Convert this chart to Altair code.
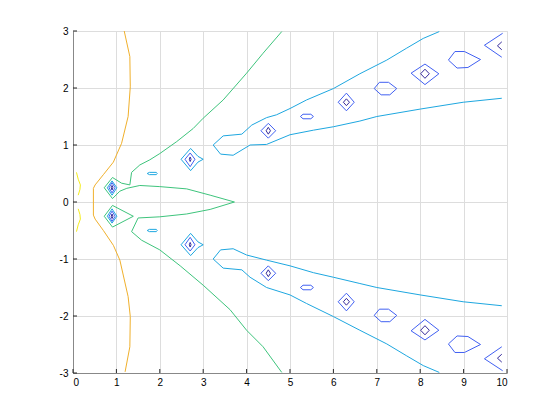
import altair as alt
import pandas as pd

# ---------------- data (x, y) ----------------
LEVELS = ["L1", "L2", "L3", "L4", "L5", "L6"]
LEVEL_COLORS = ["#352a9a", "#4160f2", "#1ea7e0", "#3ec47c", "#f0b02c", "#f4ec1c"]

X_TICKS = [0, 1, 2, 3, 4, 5, 6, 7, 8, 9, 10]
Y_TICKS = [-3, -2, -1, 0, 1, 2, 3]

YELLOW_UP = [(0.08, 0.52), (0.12, 0.40), (0.17, 0.30), (0.16, 0.22), (0.12, 0.12)]
YELLOW_LOW = [(0.12, -0.12), (0.16, -0.22), (0.17, -0.30), (0.12, -0.40), (0.08, -0.52)]

ORANGE_ARC = [(1.18, 3.00), (1.31, 2.55), (1.32, 2.02), (1.27, 1.50), (1.12, 1.03),
              (0.93, 0.70), (0.70, 0.48), (0.51, 0.30), (0.47, 0.24), (0.47, -0.23),
              (0.51, -0.30), (0.70, -0.50), (0.93, -0.76), (1.08, -1.02), (1.27, -1.66),
              (1.32, -2.01), (1.31, -2.54), (1.20, -2.98)]

GREEN_MAIN = [(4.81, 2.99), (4.38, 2.61), (4.00, 2.26), (3.46, 1.79), (3.00, 1.47),
              (2.77, 1.29), (2.39, 1.06), (2.00, 0.85), (1.77, 0.74), (1.54, 0.65),
              (1.35, 0.52), (1.31, 0.30), (1.12, 0.33), (0.91, 0.43), (0.72, 0.25),
              (0.91, 0.06), (1.08, 0.19), (1.24, 0.24), (1.54, 0.29), (2.00, 0.27),
              (2.62, 0.23), (3.16, 0.12), (3.72, 0.00), (3.16, -0.13), (2.62, -0.21),
              (2.00, -0.26), (1.50, -0.28), (1.35, -0.52), (1.58, -0.67), (2.00, -0.84),
              (2.47, -1.12), (3.00, -1.46), (3.62, -1.89), (4.00, -2.25), (4.38, -2.54),
              (4.81, -2.99)]
GREEN_DIAMOND_LOW = [(1.39, -0.25), (0.91, -0.06), (0.72, -0.25), (0.91, -0.44), (1.39, -0.25)]

CYAN_FUNNEL_UP = [(8.44, 2.99), (8.07, 2.87), (7.69, 2.70), (7.23, 2.49), (6.61, 2.25),
                  (6.00, 1.99), (5.38, 1.79), (5.00, 1.64), (4.69, 1.53), (4.46, 1.48),
                  (4.12, 1.35), (3.89, 1.19), (3.46, 1.16), (3.23, 1.00), (3.40, 0.84),
                  (3.69, 0.82), (4.08, 1.00), (4.46, 1.01), (5.00, 1.18), (5.54, 1.26),
                  (6.00, 1.32), (6.61, 1.42), (7.00, 1.50), (8.00, 1.63), (8.99, 1.75),
                  (9.88, 1.82)]
CYAN_FUNNEL_LOW = [(8.44, -2.99), (8.07, -2.87), (7.69, -2.70), (7.23, -2.49), (6.61, -2.25),
                   (6.00, -2.01), (5.38, -1.78), (5.00, -1.63), (4.46, -1.50), (4.08, -1.32),
                   (3.89, -1.19), (3.46, -1.16), (3.23, -1.00), (3.40, -0.84), (3.69, -0.82),
                   (4.00, -0.93), (4.46, -1.02), (5.00, -1.12), (5.54, -1.24), (6.00, -1.32),
                   (6.61, -1.43), (7.00, -1.50), (8.00, -1.63), (8.99, -1.75), (9.88, -1.82)]
CYAN_D1_UP = [(0.79, 0.25), (0.90, 0.37), (1.01, 0.25), (0.90, 0.12), (0.79, 0.25)]
CYAN_D1_LOW = [(0.79, -0.25), (0.90, -0.12), (1.01, -0.25), (0.90, -0.37), (0.79, -0.25)]
CYAN_D2_UP = [(2.49, 0.75), (2.71, 0.94), (2.88, 0.80), (3.00, 0.75), (2.88, 0.70),
              (2.71, 0.55), (2.49, 0.75)]
CYAN_D2_LOW = [(2.49, -0.75), (2.71, -0.55), (2.88, -0.70), (3.00, -0.75), (2.88, -0.80),
               (2.71, -0.94), (2.49, -0.75)]
CYAN_E1_UP = [(1.71, 0.50), (1.76, 0.52), (1.92, 0.52), (1.94, 0.50), (1.92, 0.48),
              (1.76, 0.48), (1.71, 0.50)]
CYAN_E1_LOW = [(1.71, -0.50), (1.76, -0.48), (1.92, -0.48), (1.94, -0.50), (1.92, -0.52),
               (1.76, -0.52), (1.71, -0.50)]

BLUE_D1_UP = [(0.83, 0.25), (0.90, 0.34), (0.97, 0.25), (0.90, 0.16), (0.83, 0.25)]
BLUE_D1_LOW = [(0.83, -0.25), (0.90, -0.16), (0.97, -0.25), (0.90, -0.34), (0.83, -0.25)]
BLUE_D2_UP = [(2.58, 0.75), (2.70, 0.86), (2.81, 0.75), (2.70, 0.62), (2.58, 0.75)]
BLUE_D2_LOW = [(2.58, -0.75), (2.70, -0.62), (2.81, -0.75), (2.70, -0.86), (2.58, -0.75)]
BLUE_D3_UP = [(4.33, 1.25), (4.50, 1.38), (4.67, 1.25), (4.50, 1.12), (4.33, 1.25)]
BLUE_D3_LOW = [(4.33, -1.25), (4.50, -1.12), (4.67, -1.25), (4.50, -1.38), (4.33, -1.25)]
BLUE_E1_UP = [(5.24, 1.50), (5.30, 1.54), (5.48, 1.54), (5.54, 1.50), (5.48, 1.46),
              (5.30, 1.46), (5.24, 1.50)]
BLUE_E1_LOW = [(5.24, -1.50), (5.30, -1.46), (5.48, -1.46), (5.54, -1.50), (5.48, -1.54),
               (5.30, -1.54), (5.24, -1.50)]
BLUE_D4_UP = [(6.11, 1.75), (6.30, 1.91), (6.48, 1.75), (6.30, 1.60), (6.11, 1.75)]
BLUE_D4_LOW = [(6.11, -1.75), (6.30, -1.60), (6.48, -1.75), (6.30, -1.91), (6.11, -1.75)]
BLUE_E2_UP = [(6.94, 1.99), (7.06, 2.10), (7.27, 2.10), (7.46, 1.99), (7.30, 1.88),
              (7.10, 1.88), (6.94, 1.99)]
BLUE_E2_LOW = [(6.94, -1.99), (7.06, -1.88), (7.27, -1.88), (7.46, -1.99), (7.30, -2.10),
               (7.10, -2.10), (6.94, -1.99)]
BLUE_D5_UP = [(7.79, 2.26), (8.11, 2.42), (8.43, 2.25), (8.11, 2.06), (7.79, 2.26)]
BLUE_D5_LOW = [(7.79, -2.26), (8.11, -2.06), (8.43, -2.25), (8.11, -2.42), (7.79, -2.26)]
BLUE_E3_UP = [(8.65, 2.49), (8.80, 2.64), (9.02, 2.64), (9.39, 2.50), (9.10, 2.36),
              (8.85, 2.35), (8.65, 2.49)]
BLUE_E3_LOW = [(8.65, -2.49), (8.80, -2.64), (9.02, -2.64), (9.39, -2.50), (9.10, -2.36),
               (8.85, -2.35), (8.65, -2.49)]
BLUE_D6_UP = [(9.90, 2.96), (9.48, 2.75), (9.88, 2.54)]
BLUE_D6_LOW = [(9.90, -2.96), (9.48, -2.75), (9.88, -2.54)]

NAVY_D1_UP = [(0.88, 0.25), (0.90, 0.29), (0.92, 0.25), (0.90, 0.21), (0.88, 0.25)]
NAVY_D1_LOW = [(0.88, -0.25), (0.90, -0.21), (0.92, -0.25), (0.90, -0.29), (0.88, -0.25)]
NAVY_D2_UP = [(2.68, 0.75), (2.70, 0.79), (2.72, 0.75), (2.70, 0.71), (2.68, 0.75)]
NAVY_D2_LOW = [(2.68, -0.75), (2.70, -0.71), (2.72, -0.75), (2.70, -0.79), (2.68, -0.75)]
NAVY_D3_UP = [(4.45, 1.25), (4.50, 1.31), (4.55, 1.25), (4.50, 1.19), (4.45, 1.25)]
NAVY_D3_LOW = [(4.45, -1.25), (4.50, -1.19), (4.55, -1.25), (4.50, -1.31), (4.45, -1.25)]
NAVY_D4_UP = [(6.23, 1.75), (6.30, 1.81), (6.37, 1.75), (6.30, 1.69), (6.23, 1.75)]
NAVY_D4_LOW = [(6.23, -1.75), (6.30, -1.69), (6.37, -1.75), (6.30, -1.81), (6.23, -1.75)]
NAVY_D5_UP = [(8.01, 2.25), (8.11, 2.33), (8.21, 2.25), (8.11, 2.17), (8.01, 2.25)]
NAVY_D5_LOW = [(8.01, -2.25), (8.11, -2.17), (8.21, -2.25), (8.11, -2.33), (8.01, -2.25)]
NAVY_D6_UP = [(9.88, 2.81), (9.78, 2.74), (9.88, 2.67)]
NAVY_D6_LOW = [(9.88, -2.81), (9.78, -2.74), (9.88, -2.67)]

PATHS = [
    ("yu", "L6", YELLOW_UP), ("yl", "L6", YELLOW_LOW),
    ("or", "L5", ORANGE_ARC),
    ("gm", "L4", GREEN_MAIN), ("gd", "L4", GREEN_DIAMOND_LOW),
    ("cfu", "L3", CYAN_FUNNEL_UP), ("cfl", "L3", CYAN_FUNNEL_LOW),
    ("cd1u", "L3", CYAN_D1_UP), ("cd1l", "L3", CYAN_D1_LOW),
    ("cd2u", "L3", CYAN_D2_UP), ("cd2l", "L3", CYAN_D2_LOW),
    ("ce1u", "L3", CYAN_E1_UP), ("ce1l", "L3", CYAN_E1_LOW),
    ("bd1u", "L2", BLUE_D1_UP), ("bd1l", "L2", BLUE_D1_LOW),
    ("bd2u", "L2", BLUE_D2_UP), ("bd2l", "L2", BLUE_D2_LOW),
    ("bd3u", "L2", BLUE_D3_UP), ("bd3l", "L2", BLUE_D3_LOW),
    ("be1u", "L2", BLUE_E1_UP), ("be1l", "L2", BLUE_E1_LOW),
    ("bd4u", "L2", BLUE_D4_UP), ("bd4l", "L2", BLUE_D4_LOW),
    ("be2u", "L2", BLUE_E2_UP), ("be2l", "L2", BLUE_E2_LOW),
    ("bd5u", "L2", BLUE_D5_UP), ("bd5l", "L2", BLUE_D5_LOW),
    ("be3u", "L2", BLUE_E3_UP), ("be3l", "L2", BLUE_E3_LOW),
    ("bd6u", "L2", BLUE_D6_UP), ("bd6l", "L2", BLUE_D6_LOW),
    ("nd1u", "L1", NAVY_D1_UP), ("nd1l", "L1", NAVY_D1_LOW),
    ("nd2u", "L1", NAVY_D2_UP), ("nd2l", "L1", NAVY_D2_LOW),
    ("nd3u", "L1", NAVY_D3_UP), ("nd3l", "L1", NAVY_D3_LOW),
    ("nd4u", "L1", NAVY_D4_UP), ("nd4l", "L1", NAVY_D4_LOW),
    ("nd5u", "L1", NAVY_D5_UP), ("nd5l", "L1", NAVY_D5_LOW),
    ("nd6u", "L1", NAVY_D6_UP), ("nd6l", "L1", NAVY_D6_LOW),
]

rows = []
for pid, lev, pts in PATHS:
    for i, (x, y) in enumerate(pts):
        rows.append({"pid": pid, "level": lev, "i": i, "x": x, "y": y})
df = pd.DataFrame(rows)

AX = "#262626"
xscale = alt.Scale(domain=[0, 10], nice=False, zero=False)
yscale = alt.Scale(domain=[-3, 3], nice=False, zero=False)

x_axis = alt.Axis(values=X_TICKS, ticks=False, grid=True, labelPadding=4,
                  labelExpr="datum.value + ''")
y_axis = alt.Axis(values=Y_TICKS, ticks=False, grid=True, labelPadding=5,
                  labelExpr="datum.value + ''")

lines = alt.Chart(df).mark_line(strokeWidth=1, clip=True).encode(
    x=alt.X("x:Q", scale=xscale, title=None, axis=x_axis),
    y=alt.Y("y:Q", scale=yscale, title=None, axis=y_axis),
    color=alt.Color("level:N", scale=alt.Scale(domain=LEVELS, range=LEVEL_COLORS), legend=None),
    detail="pid:N",
    order="i:Q",
)

xt = alt.Chart(pd.DataFrame({"x": X_TICKS})).mark_rule(color=AX, strokeWidth=1).encode(
    x=alt.X("x:Q", scale=xscale, title=None, axis=x_axis), y=alt.value(342), y2=alt.value(338))
yt = alt.Chart(pd.DataFrame({"y": Y_TICKS})).mark_rule(color=AX, strokeWidth=1).encode(
    y=alt.Y("y:Q", scale=yscale, title=None, axis=y_axis), x=alt.value(0), x2=alt.value(4))

chart = alt.layer(lines, xt, yt).properties(
    width=434, height=342,
    autosize=alt.AutoSizeParams(type="none"),
    padding={"left": 65, "top": 23, "right": 45, "bottom": 40},
).configure_view(stroke=None).configure_axis(
    domainColor=AX, domainWidth=1, gridColor="#dcdcdc", gridWidth=1,
    labelFont="DejaVu Sans", labelFontSize=10, labelColor=AX,
).configure(background="white")

chart.save("out.html", embed_options={"renderer": "svg", "actions": False})
